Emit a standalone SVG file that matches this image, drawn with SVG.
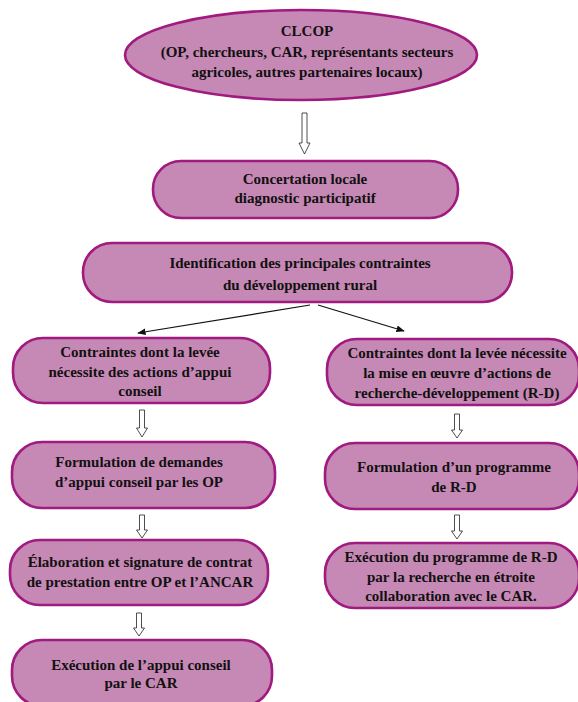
<svg xmlns="http://www.w3.org/2000/svg" width="578" height="702" viewBox="0 0 578 702">
<defs>
<style>
.n{fill:#c688b4;stroke:#a01a80;stroke-width:2.6}
.t{font-family:'Liberation Serif','Times New Roman',serif;font-weight:bold;font-size:15px;fill:#111;text-anchor:middle}
.h{fill:#fff;stroke:#222;stroke-width:0.8}
.l{stroke:#111;stroke-width:1.2;fill:none}
</style>
<marker id="ah" viewBox="0 0 10 10" refX="9" refY="5" markerWidth="7" markerHeight="7" orient="auto"><path d="M0,1 L10,5 L0,9 z" fill="#111"/></marker>
</defs>
<rect width="578" height="702" fill="#fff"/>
<g id="n1"><ellipse class="n" cx="301" cy="55" rx="176" ry="45"/>
<text class="t" x="307" y="36">CLCOP</text>
<text class="t" x="307" y="57">(OP, chercheurs, CAR, représentants secteurs</text>
<text class="t" x="307" y="77">agricoles, autres partenaires locaux)</text></g>
<g id="n2"><rect class="n" x="153" y="161" width="305" height="57" rx="28"/>
<text class="t" x="305" y="184">Concertation locale</text>
<text class="t" x="305" y="203">diagnostic participatif</text></g>
<g id="n3"><rect class="n" x="83" y="243" width="429" height="59" rx="29"/>
<text class="t" x="300" y="268">Identification des principales contraintes</text>
<text class="t" x="300" y="290">du développement rural</text></g>
<g id="n4"><rect class="n" x="13" y="338" width="257" height="65" rx="30"/>
<text class="t" x="140" y="357">Contraintes dont la levée</text>
<text class="t" x="140" y="377">nécessite des actions d’appui</text>
<text class="t" x="140" y="396">conseil</text></g>
<g id="n5"><rect class="n" x="327" y="339" width="252" height="66" rx="30"/>
<text class="t" x="457" y="358">Contraintes dont la levée nécessite</text>
<text class="t" x="457" y="378">la mise en œuvre d’actions de</text>
<text class="t" x="457" y="398">recherche-développement (R-D)</text></g>
<g id="n6"><rect class="n" x="12" y="442" width="263" height="66" rx="30"/>
<text class="t" x="139" y="467">Formulation de demandes</text>
<text class="t" x="139" y="487">d’appui conseil par les OP</text></g>
<g id="n7"><rect class="n" x="325" y="443" width="254" height="66" rx="30"/>
<text class="t" x="454" y="472">Formulation d’un programme</text>
<text class="t" x="454" y="492">de R-D</text></g>
<g id="n8"><rect class="n" x="10" y="540" width="258" height="65" rx="30"/>
<text class="t" x="140" y="567">Élaboration et signature de contrat</text>
<text class="t" x="140" y="587">de prestation entre OP et l’ANCAR</text></g>
<g id="n9"><rect class="n" x="325" y="543" width="254" height="65" rx="30"/>
<text class="t" x="451" y="562">Exécution du programme de R-D</text>
<text class="t" x="451" y="582">par la recherche en étroite</text>
<text class="t" x="451" y="601">collaboration avec le CAR.</text></g>
<g id="n10"><rect class="n" x="12" y="640" width="260" height="66" rx="30"/>
<text class="t" x="141" y="670">Exécution de l’appui conseil</text>
<text class="t" x="141" y="688">par le CAR</text></g>
<g id="connectors">
<path class="h" d="M302,113 H307 V143 H310 L304.5,154 L299,143 H302 Z"/>
<line class="l" x1="310" y1="305" x2="138" y2="333" marker-end="url(#ah)"/>
<line class="l" x1="318" y1="305" x2="404" y2="331" marker-end="url(#ah)"/>
<path class="h" d="M139.5,410 H144.5 V428 H147.5 L142,437 L136.5,428 H139.5 Z"/>
<path class="h" d="M454.5,414 H459.5 V430 H462.5 L457,438 L451.5,430 H454.5 Z"/>
<path class="h" d="M139.5,515 H144.5 V530 H147.5 L142,538 L136.5,530 H139.5 Z"/>
<path class="h" d="M454.5,515 H459.5 V531 H462.5 L457,539 L451.5,531 H454.5 Z"/>
<path class="h" d="M136.5,613 H141.5 V628 H144.5 L139,636 L133.5,628 H136.5 Z"/>
</g>
</svg>
